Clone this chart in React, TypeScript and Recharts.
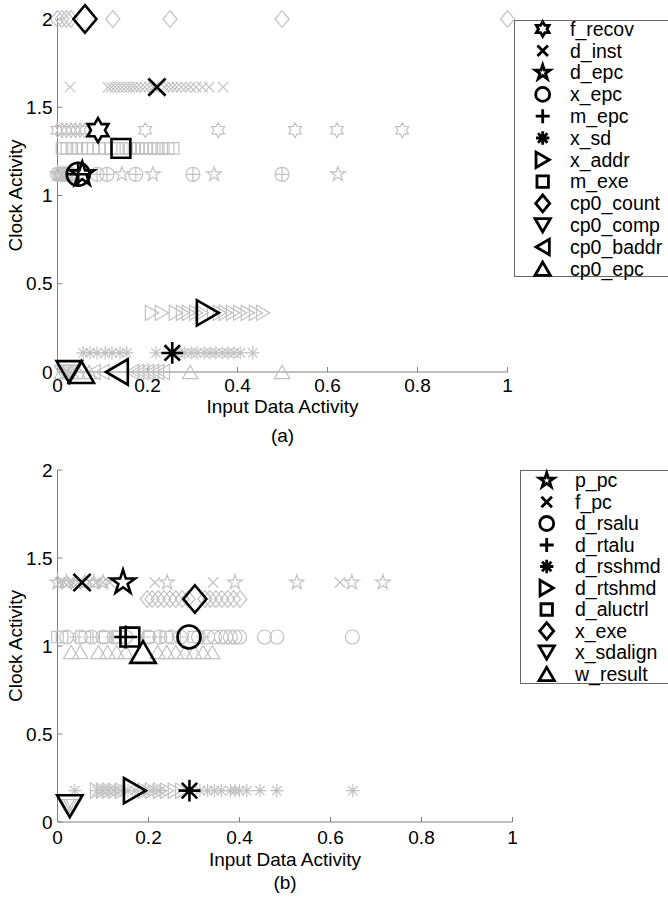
import React from 'react';
import { ScatterChart, Scatter, XAxis, YAxis, Label, Legend } from 'recharts';

const FONT = '"Liberation Sans", Arial, Helvetica, sans-serif';
const GREY = '#c2c2c2';
const AXIS = '#808080';

const X_TICKS = [0, 0.2, 0.4, 0.6, 0.8, 1];
const Y_TICKS = [0, 0.5, 1, 1.5, 2];

// ---- panel (a): one row per signal, grey = single runs, black = mean
const A_NAMES = ['f_recov', 'd_inst', 'd_epc', 'x_epc', 'm_epc', 'x_sd', 'x_addr', 'm_exe', 'cp0_count', 'cp0_comp', 'cp0_baddr', 'cp0_epc'];
const A_MARKERS = ['hexagram', 'x', 'pentagram', 'circle', 'plus', 'asterisk', 'right', 'square', 'diamond', 'down', 'left', 'up'];
const A_LEVELS = [1.37, 1.614, 1.12, 1.12, 1.12, 0.108, 0.335, 1.267, 2, 0, 0, 0];
const A_MEAN_X = [0.09, 0.221, 0.055, 0.046, 0.046, 0.255, 0.334, 0.141, 0.061, 0.026, 0.132, 0.053];

const fRecovX = [0, 0.01, 0.02, 0.03, 0.04, 0.05, 0.06, 0.195, 0.357, 0.528, 0.621, 0.766];
const dInstX = [0.028, 0.112, 0.12, 0.128, 0.136, 0.144, 0.152, 0.16, 0.168, 0.176, 0.185, 0.194, 0.204, 0.213, 0.238, 0.247, 0.256, 0.265, 0.275, 0.285, 0.296, 0.308, 0.322, 0.337, 0.368];
const dEpcX = [0, 0.006, 0.012, 0.018, 0.024, 0.143, 0.212, 0.348, 0.623];
const xEpcX = [0, 0.005, 0.01, 0.015, 0.02, 0.025, 0.03, 0.088, 0.11, 0.174, 0.301, 0.499];
const mEpcX = [0.01, 0.02, 0.088, 0.11, 0.174, 0.301, 0.499];
const xSdX = [0.057, 0.072, 0.088, 0.106, 0.121, 0.139, 0.154, 0.219, 0.27, 0.283, 0.297, 0.31, 0.326, 0.339, 0.352, 0.366, 0.379, 0.392, 0.406, 0.434];
const xAddrX = [0.21, 0.232, 0.263, 0.279, 0.292, 0.308, 0.321, 0.348, 0.361, 0.374, 0.39, 0.406, 0.423, 0.441, 0.457];
const mExeX = [0.01, 0.021, 0.032, 0.043, 0.054, 0.066, 0.079, 0.092, 0.106, 0.119, 0.133, 0.152, 0.161, 0.17, 0.179, 0.188, 0.197, 0.206, 0.215, 0.224, 0.235, 0.246, 0.257];
const cp0CountX = [0, 0.01, 0.02, 0.03, 0.123, 0.25, 0.499, 1];
const cp0CompX = [0.01, 0.015, 0.02, 0.025, 0.03, 0.035];
const cp0BaddrX = [0.08, 0.1, 0.166, 0.177, 0.188, 0.199, 0.21, 0.221, 0.234];
const cp0EpcX = [0.01, 0.03, 0.045, 0.07, 0.295, 0.499];
const A_GREY_X = [fRecovX, dInstX, dEpcX, xEpcX, mEpcX, xSdX, xAddrX, mExeX, cp0CountX, cp0CompX, cp0BaddrX, cp0EpcX];

// ---- panel (b)
const B_NAMES = ['p_pc', 'f_pc', 'd_rsalu', 'd_rtalu', 'd_rsshmd', 'd_rtshmd', 'd_aluctrl', 'x_exe', 'x_sdalign', 'w_result'];
const B_MARKERS = ['pentagram', 'x', 'circle', 'plus', 'asterisk', 'right', 'square', 'diamond', 'down', 'up'];
const B_LEVELS = [1.361, 1.361, 1.051, 1.051, 0.178, 0.178, 1.051, 1.267, 0.09, 0.966];
const B_MEAN_X = [0.144, 0.054, 0.289, 0.15, 0.29, 0.17, 0.159, 0.302, 0.027, 0.188];

const pPcX = [0, 0.02, 0.04, 0.06, 0.08, 0.1, 0.241, 0.39, 0.526, 0.647, 0.715];
const fPcX = [0.005, 0.015, 0.025, 0.035, 0.045, 0.07, 0.085, 0.1, 0.115, 0.214, 0.342, 0.621];
const dRsaluX = [0.02, 0.05, 0.075, 0.1, 0.125, 0.15, 0.2, 0.225, 0.25, 0.27, 0.31, 0.33, 0.345, 0.36, 0.37, 0.38, 0.39, 0.4, 0.455, 0.482, 0.648];
const dRtaluX = [0.04, 0.078, 0.12, 0.19, 0.225, 0.27, 0.32];
const dRsshmdX = [0.038, 0.087, 0.1, 0.113, 0.126, 0.14, 0.155, 0.17, 0.19, 0.21, 0.225, 0.313, 0.33, 0.345, 0.36, 0.38, 0.39, 0.4, 0.416, 0.445, 0.482, 0.649];
const dRtshmdX = [0.087, 0.1, 0.113, 0.126, 0.142, 0.192, 0.208, 0.226, 0.241, 0.258, 0.274];
const dAluctrlX = [0, 0.01, 0.06, 0.105, 0.135, 0.2, 0.24, 0.3];
const xExeX = [0.197, 0.208, 0.221, 0.234, 0.247, 0.26, 0.274, 0.287, 0.324, 0.335, 0.348, 0.361, 0.374, 0.387, 0.401];
const xSdalignX = [0.02, 0.025, 0.03, 0.035];
const wResultX = [0.03, 0.05, 0.09, 0.11, 0.13, 0.15, 0.22, 0.24, 0.26, 0.28, 0.3, 0.32, 0.34];
const B_GREY_X = [pPcX, fPcX, dRsaluX, dRtaluX, dRsshmdX, dRtshmdX, dAluctrlX, xExeX, xSdalignX, wResultX];

function star(n: number, ro: number, ri: number) {
  const pts: string[] = [];
  for (let i = 0; i < 2 * n; i++) {
    const a = -Math.PI / 2 + (i * Math.PI) / n;
    const rr = i % 2 === 0 ? ro : ri;
    pts.push(`${(rr * Math.cos(a)).toFixed(2)},${(rr * Math.sin(a)).toFixed(2)}`);
  }
  return 'M' + pts.join('L') + 'Z';
}

function markerPath(kind: string, r: number) {
  const t = r * 0.95;
  const b = r * 1.1;
  switch (kind) {
    case 'hexagram':
      return star(6, r * 1.05, (r * 1.05) / Math.sqrt(3));
    case 'pentagram':
      return star(5, r * 1.1, r * 1.1 * 0.382);
    case 'x': {
      const a = r * 0.75;
      return `M${-a},${-a}L${a},${a}M${-a},${a}L${a},${-a}`;
    }
    case 'plus':
      return `M${-r},0L${r},0M0,${-r}L0,${r}`;
    case 'asterisk': {
      const a = r * 0.95;
      const d = a * 0.707;
      return `M${-a},0L${a},0M0,${-a}L0,${a}M${-d},${-d}L${d},${d}M${-d},${d}L${d},${-d}`;
    }
    case 'square': {
      const s = r * 0.82;
      return `M${-s},${-s}H${s}V${s}H${-s}Z`;
    }
    case 'diamond':
      return `M0,${-r * 1.2}L${r},0L0,${r * 1.2}L${-r},0Z`;
    case 'up':
      return `M0,${-t}L${b},${t}L${-b},${t}Z`;
    case 'down':
      return `M0,${t}L${b},${-t}L${-b},${-t}Z`;
    case 'right':
      return `M${t},0L${-t},${-b}L${-t},${b}Z`;
    default:
      return `M${-t},0L${t},${-b}L${t},${b}Z`;
  }
}

function Marker({ kind, cx, cy, r, color, sw }: { kind: string; cx: number; cy: number; r: number; color: string; sw: number }) {
  if (kind === 'circle') return <circle cx={cx} cy={cy} r={r} fill="none" stroke={color} strokeWidth={sw} />;
  return (
    <path d={markerPath(kind, r)} transform={`translate(${cx},${cy})`} fill="none" stroke={color} strokeWidth={sw} strokeLinejoin="miter" />
  );
}

const shapeFor = (kind: string, r: number, color: string, sw: number) => (props: any) => {
  if (props.cx == null || props.cy == null) return <g />;
  return <Marker kind={kind} cx={props.cx} cy={props.cy} r={r} color={color} sw={sw} />;
};

type LegendCfg = { left: number; top: number; height: number; firstRow: number; step: number; markerX: number; textX: number };

function LegendBox({ names, markers, cfg }: { names: string[]; markers: string[]; cfg: LegendCfg }) {
  return (
    <svg width={160} height={cfg.height} style={{ display: 'block', overflow: 'visible' }}>
      <rect x={0.5} y={0.5} width={200} height={cfg.height - 1} fill="#fff" stroke="#666" />
      {names.map((n, i) => {
        const cy = cfg.firstRow + i * cfg.step;
        return (
          <g key={n}>
            <Marker kind={markers[i]} cx={cfg.markerX} cy={cy} r={7} color="#000" sw={2.8} />
            <text x={cfg.textX} y={cy + 6.8} fontSize={19.5} fontFamily={FONT} fill="#000">
              {n}
            </text>
          </g>
        );
      })}
    </svg>
  );
}

type PanelProps = {
  names: string[];
  markers: string[];
  levels: number[];
  meanX: number[];
  greyX: number[][];
  height: number;
  margin: { top: number; right: number; bottom: number; left: number };
  tickGap: number;
  titleOffset: number;
  caption: string;
  captionOffset: number;
  legend: LegendCfg;
};

function Panel(p: PanelProps) {
  const txt = { fill: '#000', fontSize: 19, fontFamily: FONT };
  return (
    <ScatterChart width={668} height={p.height} margin={p.margin}>
      <XAxis type="number" dataKey="x" domain={[0, 1]} ticks={X_TICKS} interval={0} height={45} tickSize={-5} tickMargin={p.tickGap} stroke={AXIS} tick={txt}>
        <Label value="Input Data Activity" position="insideBottom" offset={p.titleOffset} {...txt} />
        <Label value={p.caption} position="insideBottom" offset={p.captionOffset} {...txt} />
      </XAxis>
      <YAxis type="number" dataKey="y" domain={[0, 2]} ticks={Y_TICKS} interval={0} width={50} tickSize={-5} tickMargin={10} stroke={AXIS} tick={txt}>
        <Label value="Clock Activity" angle={-90} position="insideLeft" offset={8} style={{ textAnchor: 'middle' }} {...txt} />
      </YAxis>
      <XAxis xAxisId="t" orientation="top" type="number" domain={[0, 1]} ticks={X_TICKS} interval={0} height={0} tickSize={-5} tickFormatter={() => ''} stroke={AXIS} />
      <YAxis yAxisId="r" orientation="right" type="number" domain={[0, 2]} ticks={Y_TICKS} interval={0} width={0} tickSize={-5} tickFormatter={() => ''} stroke={AXIS} />
      {p.greyX.map((xs, i) => (
        <Scatter key={'g' + i} data={xs.map((x) => ({ x, y: p.levels[i] }))} shape={shapeFor(p.markers[i], 7, GREY, 1.2)} isAnimationActive={false} legendType="none" />
      ))}
      {p.meanX.map((mx, i) => (
        <Scatter key={'m' + i} data={[{ x: mx, y: p.levels[i] }]} shape={shapeFor(p.markers[i], 11.5, '#000', 2.6)} isAnimationActive={false} legendType="none" />
      ))}
      <Legend
        layout="vertical"
        align="center"
        verticalAlign="middle"
        wrapperStyle={{ left: p.legend.left, top: p.legend.top, width: 160, height: p.legend.height }}
        content={() => <LegendBox names={p.names} markers={p.markers} cfg={p.legend} />}
      />
    </ScatterChart>
  );
}

export default function App() {
  return (
    <div style={{ position: 'absolute', left: 0, top: 0, width: 668, height: 899, overflow: 'hidden', background: '#fff', fontFamily: FONT }}>
      <div style={{ position: 'absolute', left: 0, top: 0 }}>
        <Panel
          names={A_NAMES}
          markers={A_MARKERS}
          levels={A_LEVELS}
          meanX={A_MEAN_X}
          greyX={A_GREY_X}
          height={450}
          margin={{ top: 19, right: 160.5, bottom: 33, left: 7.5 }}
          tickGap={12}
          titleOffset={4}
          caption="(a)"
          captionOffset={-25}
          legend={{ left: 514, top: 19.5, height: 257, firstRow: 9, step: 21.8, markerX: 28.7, textX: 56 }}
        />
      </div>
      <div style={{ position: 'absolute', left: 0, top: 450 }}>
        <Panel
          names={B_NAMES}
          markers={B_MARKERS}
          levels={B_LEVELS}
          meanX={B_MEAN_X}
          greyX={B_GREY_X}
          height={449}
          margin={{ top: 20, right: 155.5, bottom: 32, left: 7.5 }}
          tickGap={14}
          titleOffset={1}
          caption="(b)"
          captionOffset={-22}
          legend={{ left: 520, top: 19.5, height: 214, firstRow: 10.5, step: 21.5, markerX: 26.7, textX: 55 }}
        />
      </div>
    </div>
  );
}
